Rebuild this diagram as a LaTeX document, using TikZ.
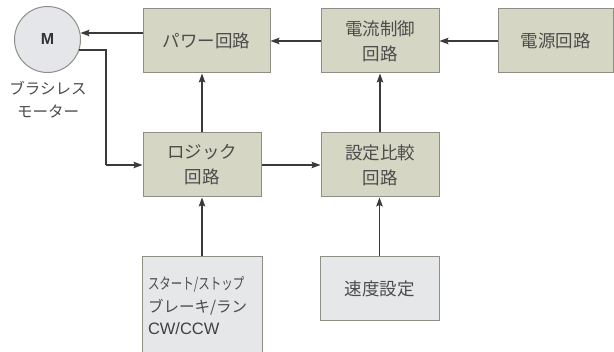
\documentclass[tikz,border=0pt]{standalone}
\usepackage{fontspec}
\usepackage{graphicx}
\setmainfont{Liberation Sans}
\newfontfamily\jp{Noto Sans CJK JP}
\usetikzlibrary{arrows.meta}
\definecolor{boxfill}{HTML}{D6D6C4}
\definecolor{boxline}{HTML}{8E8E86}
\definecolor{grayfill}{HTML}{E6E7E9}
\definecolor{circfill}{HTML}{E4E6EA}
\definecolor{txt}{HTML}{4C4C4C}
\definecolor{wire}{HTML}{3A3A3A}
\tikzset{
  blk/.style={draw=boxline, line width=1pt, fill=boxfill, minimum height=64pt, minimum width=118pt,
    inner sep=0pt, align=center, text=txt, font=\jp\fontsize{17.5}{25}\selectfont},
  gblk/.style={draw=boxline, line width=1pt, fill=grayfill, inner sep=0pt, text=txt,
    font=\jp\fontsize{17.5}{25}\selectfont},
  wirearrow/.style={draw=wire, line width=1.1pt, -{Stealth[length=9pt,width=6.5pt,inset=1.5pt]}},
  wireline/.style={draw=wire, line width=1.1pt}
}
\begin{document}
\begin{tikzpicture}[x=1pt,y=-1pt]
\useasboundingbox (0,0) rectangle (614,352);
% motor
\node[circle, draw=boxline, line width=1pt, fill=circfill, minimum size=66pt, inner sep=0pt,
  font=\bfseries\fontsize{16}{16}\selectfont, text=black!80] (motor) at (47.5,39.5) {M};
\node[anchor=north, align=center, text=txt, inner sep=0pt, font=\jp\fontsize{15.5}{23}\selectfont]
  (motorlbl) at (48,81) {ブラシレス\\モーター};
\coordinate (min) at (80.5,33);
\coordinate (mout) at (78.5,50);
% top row
\node[blk, minimum width=127pt] (power) at (206.5,41) {パワー回路};
\node[blk] (current) at (380,41) {電流制御\\回路};
\node[blk, minimum width=115pt] (source) at (555.5,41) {電源回路};
% middle row
\node[blk] (logic) at (202,165) {ロジック\\回路};
\node[blk] (compare) at (380,165) {設定比較\\回路};
% bottom row
\node[gblk, minimum width=120pt, minimum height=98pt, text width=108pt, align=left,
  inner xsep=6pt, font=\jp\fontsize{15.5}{22.5}\selectfont] (start) at (202,306)
  {\scalebox{0.74}[1]{スタート/ストップ}\\ブレーキ/ラン\\{\rmfamily\fontsize{16.5}{22.5}\selectfont\color{black!75}CW/CCW}};
\node[gblk, minimum width=119pt, minimum height=64pt, align=center] (speed) at (379.5,289) {速度設定};
% connectors
\draw[wirearrow] (source.west) -- (source.west -| current.east);
\draw[wirearrow] (current.west) -- (current.west -| power.east);
\draw[wirearrow] (power.west |- min) -- (min);
\draw[wireline] (mout) -- (mout -| 106,0) coordinate (bend) -- (bend |- logic.west);
\draw[wirearrow] (bend |- logic.west) -- (logic.west);
\draw[wirearrow] (logic.north) -- (logic.north |- power.south);
\draw[wirearrow] (logic.east) -- (compare.west);
\draw[wirearrow] (compare.north) -- (current.south);
\draw[wirearrow] (start.north) -- (logic.south);
\draw[wirearrow] (speed.north) -- (speed.north |- compare.south);
\end{tikzpicture}
\end{document}
